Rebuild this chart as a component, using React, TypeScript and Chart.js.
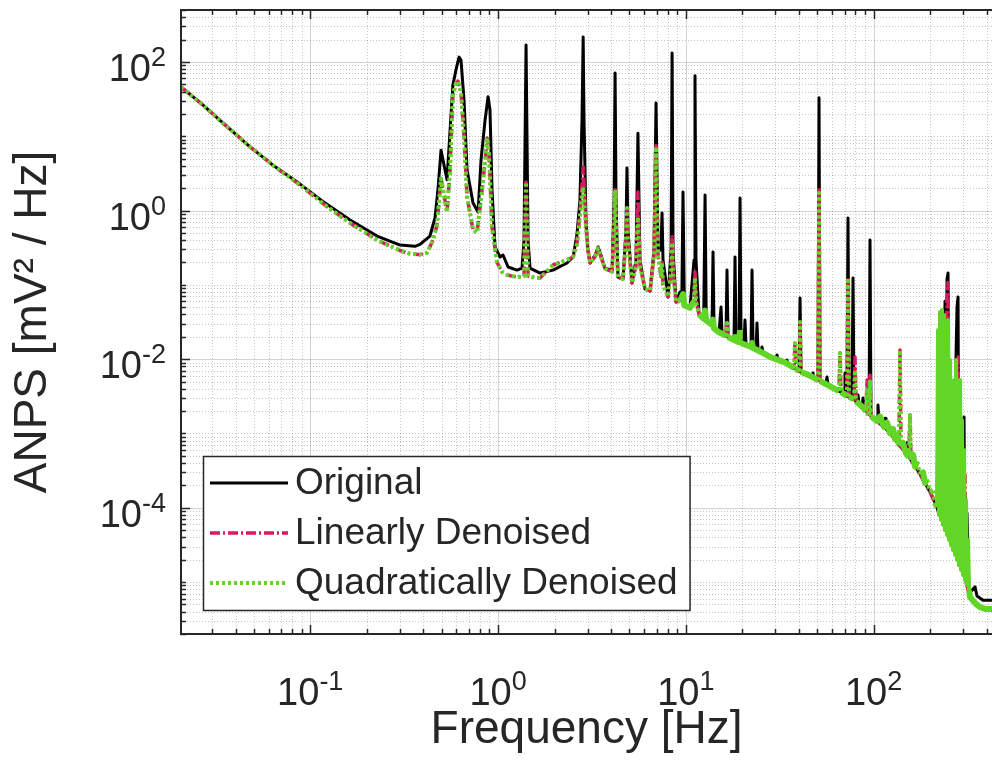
import React, { useEffect, useRef } from 'react';
import { Chart, registerables } from 'chart.js';

Chart.register(...registerables);

const FONT = '"Liberation Sans", Arial, Helvetica, sans-serif';
const INK = '#262626';
const TICK_SIZE = 38;
const SUP_SIZE = 27;
const TITLE_SIZE = 46;

const X_MIN = 0.0205;
const X_MAX = 427;
const Y_MIN = 2e-6;
const Y_MAX = 500;

const xTickValues = [0.1, 1, 10, 100];
const xTickExponents = ['-1', '0', '1', '2'];
const yTickValues = [1e-4, 1e-2, 1, 100];
const yTickExponents = ['-4', '-2', '0', '2'];
const tickBase = '10';

const xTitle = 'Frequency [Hz]';
const yTitle = 'ANPS [mV² / Hz]';
const seriesLabels = ['Original', 'Linearly Denoised', 'Quadratically Denoised'];

// [frequency Hz, ANPS mV^2/Hz]
const original: [number, number][] = [
  [0.0205, 46], [0.0265, 27], [0.0352, 14.2], [0.0478, 7.2], [0.0642, 3.97], [0.0883, 2.27], [0.12, 1.26],
  [0.163, 0.745], [0.227, 0.454], [0.301, 0.343], [0.361, 0.33], [0.384, 0.35], [0.434, 0.454],
  [0.462, 0.8], [0.48, 2.07], [0.497, 6.5], [0.535, 2.6], [0.575, 49], [0.597, 78], [0.62, 116], [0.635, 106],
  [0.659, 30.7], [0.684, 3.51], [0.736, 1.26], [0.783, 0.955], [0.812, 4.8], [0.853, 16.5], [0.885, 34],
  [0.906, 22.5], [0.929, 1.89], [0.964, 0.323], [1.025, 0.237], [1.063, 0.252], [1.131, 0.174], [1.262, 0.158],
  [1.342, 0.168], [1.375, 0.4], [1.41, 169], [1.445, 0.4], [1.48, 0.168], [1.674, 0.144], [1.963, 0.158],
  [2.33, 0.197], [2.51, 0.237], [2.63, 0.468], [2.73, 1.38], [2.8, 16.5], [2.84, 216], [2.87, 16.5], [2.94, 0.745],
  [3.01, 0.294], [3.09, 0.197], [3.29, 0.252], [3.41, 0.323], [3.53, 0.252], [3.71, 0.168], [4.05, 0.158],
  [4.15, 1.38], [4.2, 71], [4.25, 1.38], [4.35, 0.127], [4.63, 0.12], [4.8, 0.547], [4.86, 3.73], [4.92, 0.547],
  [5.17, 0.106], [5.43, 0.216], [5.56, 11.0], [5.7, 0.216], [6.06, 0.0878], [6.45, 0.0825], [6.77, 0.294],
  [6.94, 28], [7.11, 0.294], [7.38, 0.294], [7.47, 0.925], [7.56, 0.216], [8.04, 0.0686], [8.35, 0.294],
  [8.45, 132], [8.55, 0.294], [8.87, 0.0586], [9.31, 0.08], [9.52, 0.06], [9.66, 1.77], [9.82, 0.0535],
  [10.52, 0.0488], [11.06, 0.216], [11.19, 65], [11.33, 0.216], [11.76, 0.0398], [12.45, 0.035], [12.66, 1.62],
  [12.85, 0.033], [13.79, 0.029], [13.96, 0.276], [14.13, 0.0262], [15.03, 0.0232], [15.4, 0.0503], [15.59, 0.0218],
  [16.37, 0.0205], [16.57, 0.158], [16.78, 0.0198], [18.06, 0.0181], [18.28, 0.237], [18.51, 0.0175], [19.2, 0.017],
  [19.44, 1.47], [19.68, 0.0165], [20.41, 0.016], [20.66, 0.0336], [20.92, 0.0155], [22.24, 0.0146], [22.52, 0.158],
  [22.8, 0.0141], [23.65, 0.0133], [23.94, 0.0306], [24.24, 0.0129], [25.14, 0.0125], [25.45, 0.0146], [25.77, 0.0121],
  [28.08, 0.0107], [30.22, 0.01], [30.59, 0.0114], [30.97, 0.00972], [34.16, 0.00886], [34.59, 0.00972],
  [35.01, 0.00859], [38.14, 0.0075], [40.08, 0.00692], [40.57, 0.0664], [41.06, 0.0067], [43.65, 0.0063],
  [46.99, 0.00574], [47.57, 0.0065], [48.15, 0.00557], [50.57, 0.00524], [51.2, 33], [51.83, 0.00507],
  [55.78, 0.00462], [56.47, 0.00574], [57.17, 0.00449], [60.78, 0.00408], [63.84, 0.00384], [69.56, 0.00339],
  [70.41, 0.0065], [71.28, 0.00329], [72.17, 0.00318], [73.05, 0.793], [73.96, 0.00309], [76.74, 0.00299],
  [77.69, 0.124], [78.64, 0.0029], [81.59, 0.00257], [82.6, 0.00329], [83.61, 0.00241], [86.75, 0.00227],
  [87.83, 0.003], [88.89, 0.00213], [94.52, 0.00182], [95.68, 0.401], [96.87, 0.00171], [104.3, 0.00147],
  [105.5, 0.00241], [106.9, 0.00138], [113.6, 0.00122], [115.0, 0.0016], [116.4, 0.00115], [122.3, 0.00101],
  [130.0, 0.000841], [136.6, 0.000698], [148.8, 0.000544], [150.6, 0.00075], [152.5, 0.000497], [158.2, 0.000439],
  [166.1, 0.000364], [176.6, 0.000284], [187.8, 0.000215], [199.7, 0.000163], [212.4, 0.000116], [217.6, 0.000102],
  [222.9, 0.00008], [225.8, 0.01], [228.6, 0.00007], [240.1, 0.06], [243.0, 0.00005], [246.0, 0.12], [249.1, 0.144],
  [252.1, 0.00004], [258.4, 0.002], [261.6, 0.00003], [278.1, 0.05], [281.6, 0.0686], [285.0, 0.00002],
  [299.3, 0.001], [303.0, 0.00166], [306.7, 0.000012], [314.3, 0.0000848], [318.3, 0.000027], [322.2, 0.000007],
  [346.7, 0.0000086], [355.3, 0.0000065], [382.5, 0.0000057], [427.1, 0.0000057],
];

const linear: [number, number][] = [
  [0.0205, 46], [0.0265, 27], [0.0352, 14.2], [0.0478, 7.2], [0.0642, 3.97], [0.0883, 2.2], [0.12, 1.18],
  [0.163, 0.68], [0.227, 0.4], [0.301, 0.29], [0.34, 0.262], [0.384, 0.255], [0.419, 0.27], [0.451, 0.4],
  [0.473, 0.64], [0.497, 2.7], [0.516, 1.62], [0.535, 0.95], [0.555, 3.5], [0.575, 35.8], [0.597, 52], [0.612, 55],
  [0.635, 39], [0.659, 10], [0.684, 1.52], [0.736, 0.55], [0.773, 0.5], [0.822, 1.9], [0.853, 4.5], [0.874, 9.5],
  [0.896, 5.6], [0.929, 0.6], [0.988, 0.2], [1.05, 0.149], [1.117, 0.136], [1.262, 0.127], [1.375, 0.131],
  [1.41, 2.42], [1.445, 0.131], [1.517, 0.127], [1.674, 0.124], [1.963, 0.185], [2.33, 0.216], [2.51, 0.237],
  [2.63, 0.35], [2.73, 0.9], [2.8, 2.2], [2.84, 3.85], [2.87, 2.2], [2.94, 0.6], [3.01, 0.3], [3.09, 0.197],
  [3.29, 0.24], [3.41, 0.31], [3.53, 0.24], [3.71, 0.165], [4.05, 0.15], [4.15, 0.6], [4.2, 2.01], [4.25, 0.6],
  [4.35, 0.127], [4.63, 0.12], [4.8, 0.4], [4.86, 1.08], [4.92, 0.4], [5.17, 0.106], [5.43, 0.18], [5.56, 1.77],
  [5.7, 0.18], [6.06, 0.088], [6.45, 0.083], [6.77, 0.25], [6.94, 7.5], [7.11, 0.25], [7.38, 0.13], [7.47, 0.2],
  [7.56, 0.1], [8.04, 0.069], [8.35, 0.15], [8.45, 0.468], [8.55, 0.15], [8.87, 0.059], [9.31, 0.06], [9.66, 0.075],
  [9.82, 0.053], [10.52, 0.049], [11.06, 0.06], [11.19, 0.149], [11.33, 0.06], [11.76, 0.04], [12.45, 0.035],
  [12.66, 0.045], [12.85, 0.033], [13.79, 0.029], [13.96, 0.034], [14.13, 0.026], [15.03, 0.023], [15.59, 0.022],
  [16.37, 0.0205], [16.57, 0.0306], [16.78, 0.0198], [18.06, 0.0181], [18.28, 0.0198], [18.51, 0.0175],
  [19.2, 0.017], [19.44, 0.0246], [19.68, 0.0165], [22.24, 0.0146], [22.52, 0.0165], [22.8, 0.0141],
  [25.14, 0.0125], [28.08, 0.0107], [30.22, 0.01], [34.16, 0.0089], [37.68, 0.0076], [38.14, 0.0165],
  [38.62, 0.0074], [40.08, 0.0069], [40.57, 0.0316], [41.06, 0.0067], [43.65, 0.0063], [47.57, 0.0057],
  [50.57, 0.0052], [51.2, 2.07], [51.83, 0.0051], [55.78, 0.0046], [60.78, 0.0041], [65.43, 0.0037],
  [66.23, 0.0121], [67.05, 0.0036], [72.17, 0.0032], [73.05, 0.124], [73.96, 0.0031], [78.64, 0.0029],
  [79.62, 0.0107], [80.6, 0.0027], [86.75, 0.0023], [91.1, 0.002], [92.24, 0.00524], [93.38, 0.0019],
  [94.52, 0.0018], [95.68, 0.0061], [96.87, 0.0017], [104.3, 0.00147], [113.6, 0.00122], [122.3, 0.00101],
  [130.0, 0.00084], [136.6, 0.0007], [138.2, 0.0133], [139.9, 0.00066], [148.8, 0.00054], [154.3, 0.00048],
  [156.2, 0.00177], [158.2, 0.00044], [166.1, 0.00036], [176.6, 0.00028], [187.8, 0.000215], [199.7, 0.000163],
  [212.4, 0.000116], [217.6, 0.000102], [225.8, 0.03], [228.6, 0.00007], [237.1, 0.04], [240.1, 0.00005],
  [246.0, 0.09], [249.1, 0.107], [252.1, 0.00004], [261.6, 0.003], [264.8, 0.000027], [278.1, 0.008],
  [281.6, 0.0107], [285.0, 0.000017], [303.0, 0.0003], [306.7, 0.000293], [310.5, 0.00001], [326.2, 0.0000063],
  [346.7, 0.0000052], [368.6, 0.0000046], [427.1, 0.0000043],
];

const quadratic: [number, number][] = [
  [0.0205, 46], [0.0265, 27], [0.0352, 14.2], [0.0478, 7.2], [0.0642, 3.97], [0.0883, 2.2], [0.12, 1.18],
  [0.163, 0.68], [0.227, 0.4], [0.301, 0.29], [0.34, 0.262], [0.384, 0.255], [0.419, 0.27], [0.451, 0.4],
  [0.473, 0.64], [0.497, 2.7], [0.516, 1.62], [0.535, 0.95], [0.555, 3.5], [0.575, 35.8], [0.597, 52], [0.612, 55],
  [0.635, 39], [0.659, 10], [0.684, 1.52], [0.736, 0.55], [0.773, 0.5], [0.822, 1.9], [0.853, 4.5], [0.874, 9.5],
  [0.896, 5.6], [0.929, 0.6], [0.988, 0.2], [1.05, 0.149], [1.117, 0.136], [1.262, 0.127], [1.375, 0.131],
  [1.41, 2.42], [1.445, 0.131], [1.517, 0.127], [1.674, 0.124], [1.963, 0.185], [2.33, 0.216], [2.51, 0.237],
  [2.63, 0.35], [2.73, 0.8], [2.8, 1.6], [2.84, 2.07], [2.87, 1.6], [2.94, 0.6], [3.01, 0.3], [3.09, 0.197],
  [3.29, 0.24], [3.41, 0.31], [3.53, 0.24], [3.71, 0.165], [4.05, 0.15], [4.15, 0.6], [4.2, 1.89], [4.25, 0.6],
  [4.35, 0.127], [4.63, 0.12], [4.8, 0.4], [4.86, 1.08], [4.92, 0.4], [5.17, 0.106], [5.43, 0.18], [5.56, 0.82],
  [5.7, 0.18], [6.06, 0.088], [6.45, 0.083], [6.77, 0.25], [6.94, 7.2], [7.11, 0.25], [7.38, 0.13], [7.47, 0.2],
  [7.56, 0.1], [8.04, 0.069], [8.35, 0.15], [8.45, 0.37], [8.55, 0.15], [8.87, 0.059], [9.31, 0.06], [9.66, 0.075],
  [9.82, 0.053], [10.52, 0.049], [11.06, 0.06], [11.19, 0.124], [11.33, 0.06], [11.76, 0.04], [12.45, 0.035],
  [12.66, 0.045], [12.85, 0.033], [13.79, 0.029], [13.96, 0.034], [14.13, 0.026], [15.03, 0.023], [15.59, 0.022],
  [16.37, 0.0205], [16.57, 0.0306], [16.78, 0.0198], [18.06, 0.0181], [18.28, 0.0198], [18.51, 0.0175],
  [19.2, 0.017], [19.44, 0.0246], [19.68, 0.0165], [22.24, 0.0146], [22.52, 0.0165], [22.8, 0.0141],
  [25.14, 0.0125], [28.08, 0.0107], [30.22, 0.01], [34.16, 0.0089], [37.68, 0.0076], [38.14, 0.0165],
  [38.62, 0.0074], [40.08, 0.0069], [40.57, 0.0316], [41.06, 0.0067], [43.65, 0.0063], [47.57, 0.0057],
  [50.57, 0.0052], [51.2, 1.89], [51.83, 0.0051], [55.78, 0.0046], [60.78, 0.0041], [65.43, 0.0037],
  [66.23, 0.0121], [67.05, 0.0036], [72.17, 0.0032], [73.05, 0.124], [73.96, 0.0031], [78.64, 0.0029],
  [79.62, 0.0071], [80.6, 0.0027], [86.75, 0.0023], [91.1, 0.002], [92.24, 0.0038], [93.38, 0.0019],
  [94.52, 0.0018], [95.68, 0.005], [96.87, 0.0017], [104.3, 0.00147], [108.2, 0.0017], [113.6, 0.00122],
  [118.0, 0.0014], [122.3, 0.00101], [126.9, 0.00115], [130.0, 0.00084], [133.3, 0.00095], [136.6, 0.0007],
  [138.2, 0.0133], [139.9, 0.00066], [143.4, 0.00075], [148.8, 0.00054], [154.3, 0.00048], [156.2, 0.00177],
  [158.2, 0.00044], [162.1, 0.00052], [166.1, 0.00036], [170.3, 0.00042], [176.6, 0.00028], [183.3, 0.0003],
  [187.8, 0.000215], [192.5, 0.00024], [199.7, 0.000163], [207.2, 0.00017], [212.4, 0.000116], [217.6, 0.000102],
  [220.3, 0.0246], [222.9, 0.0000797], [225.8, 0.0431], [228.6, 0.0000683], [231.4, 0.0458], [234.2, 0.0000585],
  [237.1, 0.0393], [240.1, 0.0000501], [243.0, 0.0246], [246.0, 0.000043], [249.1, 0.0336], [252.1, 0.0000368],
  [255.2, 0.00972], [258.4, 0.0000315], [261.6, 0.00282], [264.8, 0.000027], [268.1, 0.00524], [271.4, 0.0000231],
  [274.8, 0.00972], [278.1, 0.0000198], [281.6, 0.0052], [285.0, 0.0000169], [288.6, 0.00524], [292.1, 0.0000145],
  [295.7, 0.00151], [299.3, 0.0000124], [303.0, 0.000598], [306.7, 0.0000106], [310.5, 0.000127],
  [314.3, 0.00000912], [318.3, 0.0000368], [322.2, 0.0000078], [326.2, 0.00000628], [346.7, 0.00000522],
  [368.6, 0.00000461], [396.8, 0.00000433], [427.1, 0.00000433],
];

const COLORS = { original: '#000000', linear: '#D81B5E', quadratic: '#62D626' };

function gridValues(min: number, max: number): number[] {
  const out: number[] = [];
  for (let n = Math.floor(Math.log10(min)); n <= Math.ceil(Math.log10(max)); n++) {
    for (let k = 1; k <= 9; k++) {
      const v = k * Math.pow(10, n);
      if (v >= min && v <= max) out.push(v);
    }
  }
  return out;
}
const isMajor = (v: number, majors: number[]) =>
  majors.some((m) => Math.abs(Math.log10(m) - Math.log10(v)) < 1e-9);

function drawPower(ctx: CanvasRenderingContext2D, exp: string, x: number, baseline: number, align: 'center' | 'right') {
  const baseFont = `${TICK_SIZE}px ${FONT}`;
  const supFont = `${SUP_SIZE}px ${FONT}`;
  ctx.font = baseFont;
  const wb = ctx.measureText(tickBase).width;
  ctx.font = supFont;
  const we = ctx.measureText(exp).width;
  const total = wb + we;
  const x0 = align === 'center' ? x - total / 2 : x - total;
  ctx.textAlign = 'left';
  ctx.textBaseline = 'alphabetic';
  ctx.fillStyle = INK;
  ctx.font = baseFont;
  ctx.fillText(tickBase, x0, baseline);
  ctx.font = supFont;
  ctx.fillText(exp, x0 + wb, baseline - 15);
}

const axesPlugin = {
  id: 'matlabAxes',
  beforeDatasetsDraw(chart: any) {
    const { ctx, chartArea: a, scales } = chart;
    const xs = scales.x, ys = scales.y;
    ctx.save();
    ctx.lineWidth = 1;
    ctx.strokeStyle = 'rgba(0,0,0,0.22)';
    ctx.setLineDash([1, 2]);
    ctx.beginPath();
    for (const v of gridValues(X_MIN, X_MAX)) {
      if (isMajor(v, xTickValues)) continue;
      const p = Math.round(xs.getPixelForValue(v)) + 0.5;
      ctx.moveTo(p, a.top); ctx.lineTo(p, a.bottom);
    }
    for (const v of gridValues(Y_MIN, Y_MAX)) {
      if (isMajor(v, yTickValues)) continue;
      const p = Math.round(ys.getPixelForValue(v)) + 0.5;
      ctx.moveTo(a.left, p); ctx.lineTo(a.right, p);
    }
    ctx.stroke();
    ctx.setLineDash([]);
    ctx.strokeStyle = 'rgba(0,0,0,0.17)';
    ctx.beginPath();
    for (const v of xTickValues) {
      const p = Math.round(xs.getPixelForValue(v)) + 0.5;
      ctx.moveTo(p, a.top); ctx.lineTo(p, a.bottom);
    }
    for (const v of yTickValues) {
      const p = Math.round(ys.getPixelForValue(v)) + 0.5;
      ctx.moveTo(a.left, p); ctx.lineTo(a.right, p);
    }
    ctx.stroke();
    ctx.restore();
  },
  afterDatasetsDraw(chart: any) {
    const { ctx, chartArea: a, scales } = chart;
    const xs = scales.x, ys = scales.y;
    ctx.save();
    ctx.strokeStyle = INK;
    ctx.lineWidth = 1.5;
    ctx.beginPath();
    for (const v of gridValues(X_MIN, X_MAX)) {
      const len = isMajor(v, xTickValues) ? 9 : 5;
      const p = Math.round(xs.getPixelForValue(v)) + 0.5;
      ctx.moveTo(p, a.bottom); ctx.lineTo(p, a.bottom - len);
      ctx.moveTo(p, a.top); ctx.lineTo(p, a.top + len);
    }
    for (const v of gridValues(Y_MIN, Y_MAX)) {
      const len = isMajor(v, yTickValues) ? 9 : 5;
      const p = Math.round(ys.getPixelForValue(v)) + 0.5;
      ctx.moveTo(a.left, p); ctx.lineTo(a.left + len, p);
    }
    ctx.stroke();
    ctx.lineWidth = 2;
    ctx.beginPath();
    ctx.moveTo(a.right, a.top); ctx.lineTo(a.left, a.top);
    ctx.lineTo(a.left, a.bottom); ctx.lineTo(a.right, a.bottom);
    ctx.stroke();

    // tick labels with superscript exponents
    xTickValues.forEach((v, i) => drawPower(ctx, xTickExponents[i], xs.getPixelForValue(v), a.bottom + 71, 'center'));
    yTickValues.forEach((v, i) => drawPower(ctx, yTickExponents[i], a.left - 15, ys.getPixelForValue(v) + 19, 'right'));

    // legend box
    const ds = chart.data.datasets;
    ctx.font = `37px ${FONT}`;
    const textW = Math.max(...ds.map((d: any) => ctx.measureText(d.label).width));
    const rowH = 50;
    const boxH = rowH * ds.length + 4;
    const left = a.left + 22;
    const bottom = a.bottom - 24;
    const top = bottom - boxH;
    const textX = left + 92;
    const right = textX + textW + 12;
    ctx.fillStyle = '#ffffff';
    ctx.fillRect(left, top, right - left, boxH);
    ctx.lineWidth = 1.5;
    ctx.strokeStyle = INK;
    ctx.strokeRect(left + 0.5, top + 0.5, right - left, boxH);
    ds.forEach((d: any, i: number) => {
      const cy = top + 27 + i * rowH;
      ctx.save();
      ctx.strokeStyle = d.borderColor;
      ctx.lineWidth = d.borderWidth;
      ctx.setLineDash(d.borderDash || []);
      ctx.beginPath();
      ctx.moveTo(left + 7, cy); ctx.lineTo(left + 85, cy);
      ctx.stroke();
      ctx.restore();
      ctx.fillStyle = INK;
      ctx.textBaseline = 'middle';
      ctx.textAlign = 'left';
      ctx.font = `37px ${FONT}`;
      ctx.fillText(d.label, textX, cy + 1);
    });
    ctx.restore();
  },
};

const toXY = (pts: [number, number][]) => pts.map(([x, y]) => ({ x, y }));

export default function App() {
  const ref = useRef<HTMLCanvasElement | null>(null);
  useEffect(() => {
    document.body.style.margin = '0';
    const canvas = ref.current;
    if (!canvas) return;
    const chart = new Chart(canvas, {
      type: 'line',
      data: {
        datasets: [
          {
            label: seriesLabels[0], data: toXY(original), borderColor: COLORS.original, borderWidth: 3,
            borderDash: [], borderJoinStyle: 'round', order: 3,
          },
          {
            label: seriesLabels[1], data: toXY(linear), borderColor: COLORS.linear, borderWidth: 3.5,
            borderDash: [10, 3, 2, 3], borderJoinStyle: 'round', order: 2,
          },
          {
            label: seriesLabels[2], data: toXY(quadratic), borderColor: COLORS.quadratic, borderWidth: 4,
            borderDash: [3, 3], borderJoinStyle: 'round', order: 1,
            segment: {
              borderDash: (ctx: any) => {
                const x0 = ctx.p0.parsed.x;
                const steep = Math.abs(ctx.p1.y - ctx.p0.y) > 12;
                return x0 > 215 || (x0 > 9 && !steep) ? [] : [3, 3];
              },
              borderWidth: (ctx: any) => {
                const x0 = ctx.p0.parsed.x;
                const steep = Math.abs(ctx.p1.y - ctx.p0.y) > 12;
                return x0 > 9 && !steep ? 6 : 4;
              },
            },
          },
        ] as any,
      },
      options: {
        responsive: false,
        animation: false,
        layout: { padding: { top: 10, left: 0, right: 0, bottom: 0 } },
        elements: { point: { radius: 0 }, line: { tension: 0 } },
        plugins: { legend: { display: false }, tooltip: { enabled: false } },
        scales: {
          x: {
            type: 'logarithmic', min: X_MIN, max: X_MAX,
            grid: { display: false }, border: { display: false },
            afterBuildTicks: (s: any) => { s.ticks = xTickValues.map((v) => ({ value: v })); },
            afterFit: (s: any) => { s.height = 137; s.paddingLeft = 0; s.paddingRight = 0; },
            ticks: { display: false },
            title: {
              display: true, text: xTitle, color: INK, font: { family: FONT, size: TITLE_SIZE },
              padding: { top: 0, bottom: 13 },
            },
          },
          y: {
            type: 'logarithmic', min: Y_MIN, max: Y_MAX,
            grid: { display: false }, border: { display: false },
            afterBuildTicks: (s: any) => { s.ticks = yTickValues.map((v) => ({ value: v })); },
            afterFit: (s: any) => { s.width = 181; s.paddingTop = 0; s.paddingBottom = 0; },
            ticks: { display: false },
            title: {
              display: true, text: yTitle, color: INK, font: { family: FONT, size: TITLE_SIZE },
              padding: { top: 6, bottom: 0 },
            },
          },
        },
      } as any,
      plugins: [axesPlugin],
    });
    return () => chart.destroy();
  }, []);
  return <canvas ref={ref} width={992} height={771} style={{ display: 'block' }} />;
}
